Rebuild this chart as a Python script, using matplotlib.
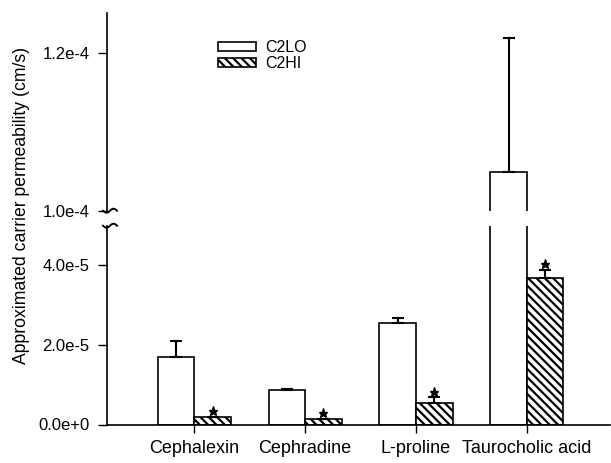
import matplotlib
matplotlib.use("Agg")
import matplotlib.pyplot as plt
import numpy as np
from matplotlib.transforms import offset_copy
from matplotlib.lines import Line2D

plt.rcParams['font.family'] = ['Liberation Sans', 'DejaVu Sans']
plt.rcParams['hatch.linewidth'] = 1.6

categories = ["Cephalexin", "Cephradine", "L-proline", "Taurocholic acid"]
c2lo = [1.70e-5, 0.866e-5, 2.56e-5, 1.049e-4]
c2lo_err = [0.40e-5, 0.03e-5, 0.11e-5, 1.70e-5]
c2hi = [0.19e-5, 0.15e-5, 0.54e-5, 3.68e-5]
c2hi_err = [0.0, 0.0, 0.14e-5, 0.21e-5]
significant = [True, True, True, True]

lower_ticks = [0.0, 2.0e-5, 4.0e-5]
lower_labels = ["0.0e+0", "2.0e-5", "4.0e-5"]
upper_ticks = [1.0e-4, 1.2e-4]
upper_labels = ["1.0e-4", "1.2e-4"]

W, H = 611, 463
fig = plt.figure(figsize=(W / 100, H / 100), dpi=100)

left = 107 / W
right = 610 / W
ax_lo = fig.add_axes([left, 1 - 424.5 / H, right - left, (424.5 - 225.7) / H])
ax_hi = fig.add_axes([left, 1 - 210.7 / H, right - left, (210.7 - 13) / H])

x = np.arange(1, len(categories) + 1)
w = 0.33

for ax in (ax_lo, ax_hi):
    ax.bar(x - w / 2, c2lo, width=w, facecolor='white', edgecolor='black', linewidth=1.2,
           label='C2LO', zorder=2)
    ax.bar(x + w / 2, c2hi, width=w, facecolor='white', edgecolor='black', linewidth=1.2,
           hatch='\\\\\\\\', label='C2HI', zorder=2)
    ax.errorbar(x - w / 2, c2lo, yerr=[np.zeros(len(c2lo)), c2lo_err], fmt='none',
                ecolor='black', elinewidth=1.5, capsize=4.5, capthick=1.5, zorder=3)
    ax.errorbar(x + w / 2, c2hi, yerr=[np.zeros(len(c2hi)), c2hi_err], fmt='none',
                ecolor='black', elinewidth=1.5, capsize=4.5, capthick=1.5, zorder=3)
    ax.set_xlim(0.213, 4.75)
    for s in ('top', 'right'):
        ax.spines[s].set_visible(False)
    ax.spines['left'].set_linewidth(1.2)
    ax.spines['bottom'].set_linewidth(1.2)
    ax.tick_params(axis='y', direction='out', length=6.5, width=1, labelsize=12, pad=6)

ax_lo.set_ylim(0, 5.0e-5)
ax_lo.set_yticks(lower_ticks)
ax_lo.set_yticklabels(lower_labels)
ax_lo.set_xticks(x)
ax_lo.set_xticklabels(categories)
ax_lo.tick_params(axis='x', direction='out', length=6, width=1, labelsize=13, pad=5)

ax_hi.set_ylim(1.0e-4, 1.25e-4)
ax_hi.set_yticks(upper_ticks)
ax_hi.set_yticklabels(upper_labels)
ax_hi.spines['bottom'].set_visible(False)
ax_hi.set_xticks([])

# significance stars
for i in range(len(categories)):
    if significant[i]:
        top = c2hi[i] + c2hi_err[i]
        tr = offset_copy(ax_lo.transData, fig=fig, x=0, y=4.2, units='points')
        ax_lo.plot([x[i] + w / 2], [top], marker='*', color='black', markersize=6.5,
                   transform=tr, clip_on=False, zorder=4)

# axis break marks
def break_mark(ax, ypos):
    t = np.linspace(-1, 1, 30)
    px0, py0 = ax.transAxes.transform((0, ypos))
    xs = px0 + 7 * t + 3
    ys = py0 + 2.0 * np.sin(np.pi * t)
    fx, fy = fig.transFigure.inverted().transform(np.column_stack([xs, ys])).T
    fig.add_artist(Line2D(fx, fy, color='black', linewidth=1.4))

break_mark(ax_hi, 0)
break_mark(ax_lo, 1)

ax_hi.legend(loc='upper left', bbox_to_anchor=(0.2207, 0.865), frameon=False,
             fontsize=11.5, handlelength=2.35, handleheight=0.49, handletextpad=0.6,
             labelspacing=0.1, borderpad=0, borderaxespad=0)

fig.text(22 / W, 1 - 205 / H, "Approximated carrier permeability (cm/s)", rotation=90,
         ha='center', va='center', fontsize=12.7)

fig.savefig("out.png", dpi=100)
